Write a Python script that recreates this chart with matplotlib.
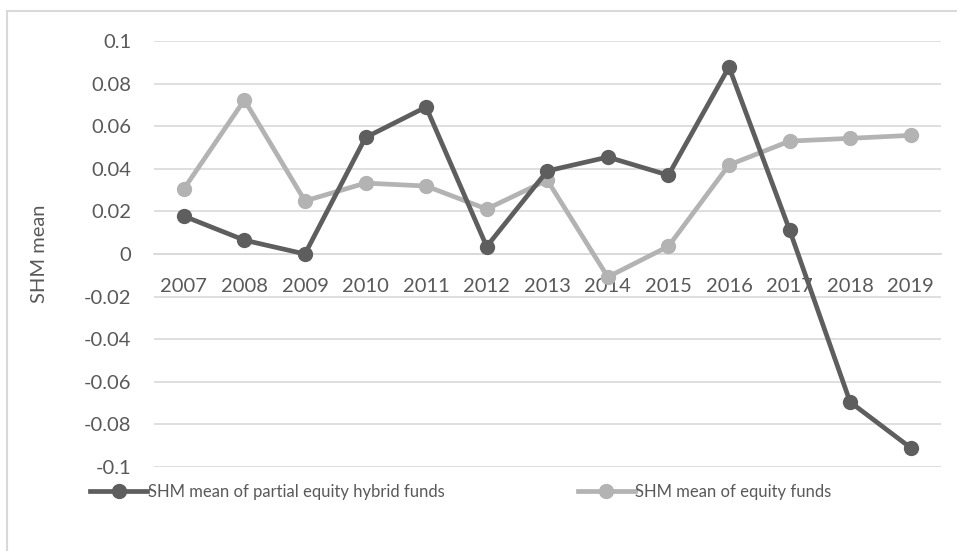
import matplotlib
matplotlib.use("Agg")
import matplotlib.pyplot as plt
from matplotlib.patches import Rectangle

years = ["2007", "2008", "2009", "2010", "2011", "2012", "2013",
         "2014", "2015", "2016", "2017", "2018", "2019"]
hybrid = [0.0178, 0.0065, 0.0000, 0.0547, 0.0690, 0.0035, 0.0390,
          0.0455, 0.0370, 0.0878, 0.0113, -0.0695, -0.0910]
equity = [0.0305, 0.0723, 0.0249, 0.0333, 0.0319, 0.0211, 0.0347,
          -0.0108, 0.0036, 0.0418, 0.0530, 0.0543, 0.0557]
yticks = [-0.1, -0.08, -0.06, -0.04, -0.02, 0, 0.02, 0.04, 0.06, 0.08, 0.1]
ytick_labels = ["-0.1", "-0.08", "-0.06", "-0.04", "-0.02", "0",
                "0.02", "0.04", "0.06", "0.08", "0.1"]

plt.rcParams['font.family'] = ['Lato', 'DejaVu Sans']
text_color = "#595959"
grid_color = "#d9d9d9"

fig = plt.figure(figsize=(9.57, 5.51), dpi=100)
W, H = 957, 551
left, right = 153.5, 941
top, bottom = 41, 467
ax = fig.add_axes([left / W, 1 - bottom / H, (right - left) / W, (bottom - top) / H])

x = list(range(len(years)))
ax.plot(x, hybrid, color="#5e5e5e", lw=3.4, marker="o", ms=10,
        label="SHM mean of partial equity hybrid funds", zorder=4)
ax.plot(x, equity, color="#b3b3b3", lw=3.4, marker="o", ms=10,
        label="SHM mean of equity funds", zorder=3)

ax.set_xlim(-0.5, len(years) - 0.5)
ax.set_ylim(-0.1, 0.1)
ax.set_yticks(yticks)
ax.set_yticklabels(ytick_labels)
ax.set_xticks(x)
ax.set_xticklabels(years)
ax.grid(axis="y", color=grid_color, lw=1.2, zorder=0)
ax.set_axisbelow(True)
for s in ["top", "right", "left"]:
    ax.spines[s].set_visible(False)
ax.spines["bottom"].set_position(("data", 0))
ax.spines["bottom"].set_color(grid_color)
ax.spines["bottom"].set_linewidth(1.2)
ax.tick_params(axis="both", length=0, labelsize=14.5, colors=text_color)
ax.tick_params(axis="x", pad=17.5)
ax.tick_params(axis="y", pad=16)
ax.set_ylabel("SHM mean", fontsize=14.5, color=text_color)
ax.yaxis.set_label_coords(-(153.5 - 48) / (right - left), 0.5)

leg = fig.legend(loc="center", bbox_to_anchor=(461 / W, 1 - 492 / H), ncol=2,
                 frameon=False, fontsize=12, labelcolor=text_color,
                 handlelength=3.4, handletextpad=0.05, columnspacing=8.0)

fig.patches.append(Rectangle((7.5 / W, -0.1), 2, 1.1 - 11.5 / H, transform=fig.transFigure,
                             fill=False, edgecolor=grid_color, lw=1.5))

fig.savefig("out.png", dpi=100)
